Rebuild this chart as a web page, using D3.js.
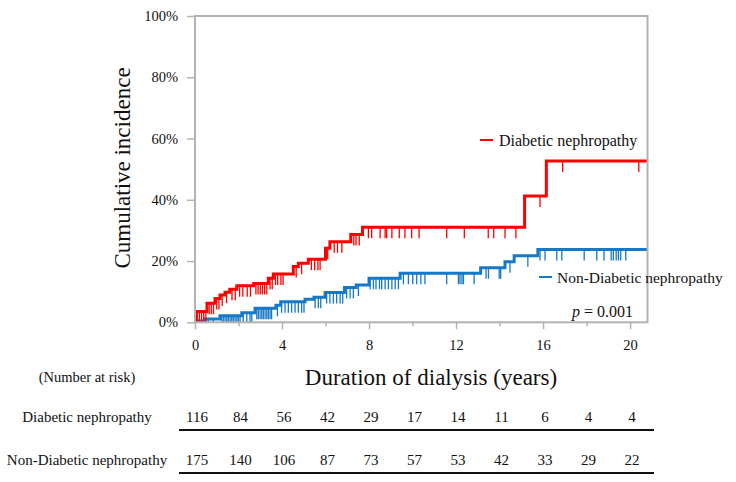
<!DOCTYPE html>
<html>
<head>
<meta charset="utf-8">
<script src="https://cdn.jsdelivr.net/npm/d3@7"></script>
<style>
  body { margin: 0; background: #fff; }
  svg text { font-family: "Liberation Serif", "Times New Roman", serif; fill: #111; }
</style>
</head>
<body>
<div class="chart"></div>
<script>
// step curves (years, cumulative incidence %)
var redTimes  = [0, 0.06, 0.55, 0.92, 1.15, 1.38, 1.6, 1.92, 2.7, 3.37, 3.6, 4.52, 4.75, 5.21, 6.0, 6.2, 7.16, 7.7, 15.15, 16.15];
var redLevels = [0, 3.5, 6.2, 7.8, 8.9, 9.8, 10.8, 11.9, 12.7, 14.4, 15.8, 18.2, 19.3, 20.6, 24.2, 26.3, 28.7, 31.0, 41.2, 52.7];

var blueTimes  = [0, 0.05, 0.46, 1.15, 2.15, 2.76, 3.72, 3.94, 5.06, 5.47, 5.98, 6.87, 7.41, 8.0, 9.43, 13.13, 14.25, 14.67, 15.76];
var blueLevels = [0, 0.4, 1.1, 2.1, 3.1, 4.6, 5.6, 6.7, 7.5, 8.2, 9.7, 11.4, 12.2, 14.4, 16.0, 17.8, 19.8, 21.7, 23.8];

// censor marks (years)
var redCensor = [0.1,0.2,0.3,0.4,0.5,0.65,0.75,0.85,1.0,1.1,1.25,1.45,1.7,1.85,2.05,2.2,2.4,2.55,2.8,2.9,3.0,3.1,3.2,3.3,3.45,3.55,3.7,3.8,3.95,4.05,4.65,4.9,5.35,5.5,5.65,5.75,6.1,6.4,6.55,6.75,7.3,7.4,7.55,7.97,8.12,8.51,8.74,8.81,9.05,9.39,9.65,9.96,10.3,11.57,12.38,13.48,13.73,14.25,14.75,15.86,16.9,20.4];
var blueCensor = [0.41,0.61,0.84,1.23,1.30,1.38,1.46,1.53,1.61,1.69,1.76,1.84,1.92,1.99,2.07,2.22,2.38,2.53,2.61,2.84,2.91,2.99,3.07,3.14,3.22,3.30,3.37,3.45,3.52,3.79,3.98,4.14,4.29,4.44,4.6,4.75,4.9,5.01,5.52,5.67,5.78,6.05,6.2,6.36,6.51,6.67,6.79,6.97,7.13,7.28,7.51,8.05,8.2,8.32,8.48,8.58,8.74,8.89,9.05,9.2,9.35,9.58,9.81,10.01,10.19,10.38,10.57,11.57,12.11,12.18,12.27,12.34,12.83,13.38,13.49,13.98,14.05,14.48,15.3,15.86,16.09,16.63,16.86,17.89,18.47,18.8,19.13,19.23,19.36,19.46,19.57,19.8];

// axes
var yTicks = [0, 20, 40, 60, 80, 100];
var xTicks = [0, 2, 4, 6, 8, 10, 12, 14, 16, 18, 20];
var xLabelTicks = [0, 4, 8, 12, 16, 20];

// number at risk
var riskYears = [0, 2, 4, 6, 8, 10, 12, 14, 16, 18, 20];
var riskDiabetic = [116, 84, 56, 42, 29, 17, 14, 11, 6, 4, 4];
var riskNonDiabetic = [175, 140, 106, 87, 73, 57, 53, 42, 33, 29, 22];

var groupNames = ["Diabetic nephropathy", "Non-Diabetic nephropathy"];

var red = "#ff0000";
var blue = "#1578c8";
var gray = "#b3b3b3";

var width = 736, height = 482;
var plot = { left: 195, right: 647.5, top: 16, bottom: 322.3 };
var xMax = 20.8;

var svg = d3.select("div.chart")
  .append("svg")
  .attr("width", width)
  .attr("height", height);

svg.append("defs")
  .append("clipPath")
  .attr("id", "plotClip")
  .append("rect")
  .attr("x", plot.left)
  .attr("y", plot.top - 5)
  .attr("width", plot.right - plot.left)
  .attr("height", plot.bottom - plot.top + 5);

var xScale = d3.scaleLinear().domain([0, xMax]).range([plot.left, plot.right]);
var yScale = d3.scaleLinear().domain([0, 100]).range([plot.bottom, plot.top]);

// y axis
var yAxis = d3.axisLeft(yScale)
  .tickValues(yTicks)
  .tickSize(8)
  .tickPadding(9)
  .tickFormat(d => d + "%");

var yG = svg.append("g")
  .attr("transform", `translate(${plot.left},0)`)
  .call(yAxis);
yG.select(".domain").remove();
yG.selectAll("line").attr("stroke", gray).attr("stroke-width", 1.5);
yG.selectAll("text").style("font-size", "14.5px").attr("fill", "#111");

// x axis
var xAxis = d3.axisBottom(xScale)
  .tickValues(xTicks)
  .tickSize(7)
  .tickFormat(d => xLabelTicks.indexOf(d) >= 0 ? d : "");

var xG = svg.append("g")
  .attr("transform", `translate(0,${plot.bottom})`)
  .call(xAxis);
xG.select(".domain").remove();
xG.selectAll("line")
  .attr("stroke", gray)
  .attr("stroke-width", 1.5)
  .attr("y2", d => xLabelTicks.indexOf(d) >= 0 ? 7 : 4);
xG.selectAll("text")
  .style("font-size", "14.5px")
  .attr("fill", "#111")
  .attr("y", 17.5);

// curves
var line = d3.line()
  .x(d => xScale(d[0]))
  .y(d => yScale(d[1]))
  .curve(d3.curveStepAfter);

function stepPoints(times, levels) {
  var pts = times.map((t, i) => [t, levels[i]]);
  pts.push([xMax, levels[levels.length - 1]]);
  return pts;
}

function levelAt(times, levels, t) {
  var v = levels[0];
  for (var i = 0; i < times.length; i++) {
    if (times[i] <= t) v = levels[i];
  }
  return v;
}

var series = [
  { times: blueTimes, levels: blueLevels, censor: blueCensor, color: blue },
  { times: redTimes, levels: redLevels, censor: redCensor, color: red }
];

var curves = svg.append("g").attr("clip-path", "url(#plotClip)");

series.forEach(function(s) {
  var g = curves.append("g");
  g.selectAll("line")
    .data(s.censor)
    .enter()
    .append("line")
    .attr("x1", d => xScale(d))
    .attr("x2", d => xScale(d))
    .attr("y1", d => yScale(levelAt(s.times, s.levels, d)))
    .attr("y2", d => yScale(levelAt(s.times, s.levels, d)) + 11)
    .attr("stroke", s.color)
    .attr("stroke-width", 1.3);

  g.append("path")
    .datum(stepPoints(s.times, s.levels))
    .attr("d", line)
    .attr("fill", "none")
    .attr("stroke", s.color)
    .attr("stroke-width", 3);
});

// frame
svg.append("rect")
  .attr("x", plot.left)
  .attr("y", plot.top)
  .attr("width", plot.right - plot.left)
  .attr("height", plot.bottom - plot.top)
  .attr("fill", "none")
  .attr("stroke", gray)
  .attr("stroke-width", 2);

// legends
svg.append("line")
  .attr("x1", 480).attr("x2", 493)
  .attr("y1", 140).attr("y2", 140)
  .attr("stroke", red).attr("stroke-width", 2);
svg.append("text")
  .attr("x", 499).attr("y", 146)
  .style("font-size", "16px")
  .text(groupNames[0]);

svg.append("line")
  .attr("x1", 539).attr("x2", 552)
  .attr("y1", 277).attr("y2", 277)
  .attr("stroke", blue).attr("stroke-width", 2);
svg.append("text")
  .attr("x", 557).attr("y", 282.5)
  .style("font-size", "15.5px")
  .text(groupNames[1]);

// p value
var pText = svg.append("text")
  .attr("x", 572).attr("y", 317)
  .style("font-size", "16px");
pText.append("tspan").style("font-style", "italic").text("p");
pText.append("tspan").text(" = 0.001");

// axis titles
svg.append("text")
  .attr("transform", "translate(130,168) rotate(-90)")
  .attr("text-anchor", "middle")
  .style("font-size", "23px")
  .text("Cumulative incidence");

svg.append("text")
  .attr("x", 431).attr("y", 385)
  .attr("text-anchor", "middle")
  .style("font-size", "23px")
  .text("Duration of dialysis (years)");

// number at risk table
svg.append("text")
  .attr("x", 87).attr("y", 382)
  .attr("text-anchor", "middle")
  .style("font-size", "14.5px")
  .text("(Number at risk)");

var rows = [
  { name: groupNames[0], values: riskDiabetic, y: 422, lineY: 430 },
  { name: groupNames[1], values: riskNonDiabetic, y: 464.5, lineY: 473 }
];

rows.forEach(function(r) {
  svg.append("text")
    .attr("x", 87).attr("y", r.y)
    .attr("text-anchor", "middle")
    .style("font-size", "15px")
    .text(r.name);

  svg.append("g")
    .selectAll("text")
    .data(r.values)
    .enter()
    .append("text")
    .attr("x", (d, i) => xScale(riskYears[i]) + 2)
    .attr("y", r.y)
    .attr("text-anchor", "middle")
    .style("font-size", "15px")
    .text(d => d);

  svg.append("line")
    .attr("x1", 179).attr("x2", 654)
    .attr("y1", r.lineY).attr("y2", r.lineY)
    .attr("stroke", "#111")
    .attr("stroke-width", 2.2);
});
</script>
</body>
</html>
